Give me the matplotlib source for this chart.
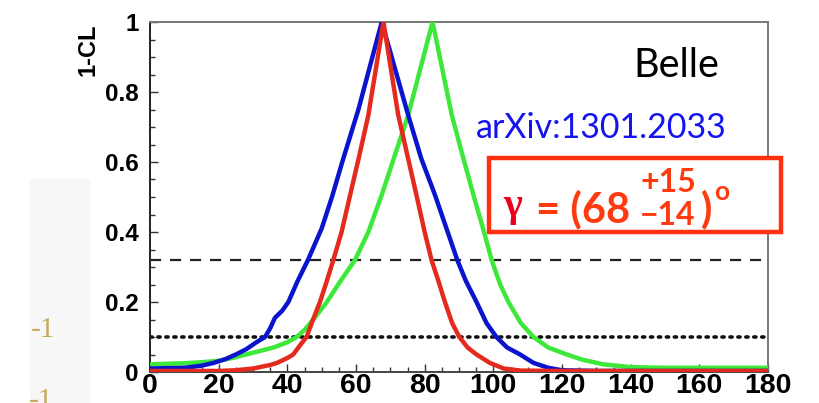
import matplotlib
matplotlib.use("Agg")
import matplotlib.pyplot as plt
from matplotlib.patches import Rectangle
from matplotlib.ticker import MultipleLocator

# ---- data ----
red_x = [0, 10, 20, 25, 30, 35, 37, 40, 41.7, 44, 45.6, 47.5, 49.5, 51.5, 53.4, 55.8, 58.3, 61, 63.6, 68,
         72.3, 77.5, 80, 82, 84, 85.9, 88, 90.1, 92.5, 95.1, 99, 103, 108, 120, 180]
red_y = [0.003, 0.003, 0.003, 0.005, 0.01, 0.02, 0.026, 0.04, 0.05, 0.08, 0.10, 0.15, 0.20, 0.26, 0.32, 0.40, 0.506, 0.62, 0.734, 1.0,
         0.734, 0.51, 0.40, 0.32, 0.26, 0.20, 0.14, 0.10, 0.07, 0.05, 0.026, 0.01, 0.004, 0.003, 0.003]

blue_x = [0, 10, 15, 18.5, 22, 25, 28, 31, 33.5, 35, 36.4, 38.5, 40.3, 43, 46, 50, 53, 56, 60.7, 67.5,
          75.2, 79, 83, 86, 89.5, 92, 95.1, 98, 100.9, 104, 107.8, 111.7, 116, 120, 130, 180]
blue_y = [0.01, 0.012, 0.018, 0.026, 0.037, 0.05, 0.065, 0.085, 0.10, 0.125, 0.155, 0.175, 0.20, 0.26, 0.32, 0.41, 0.50, 0.60, 0.75, 1.0,
          0.734, 0.61, 0.506, 0.42, 0.32, 0.26, 0.20, 0.14, 0.10, 0.07, 0.05, 0.026, 0.012, 0.005, 0.003, 0.003]

green_x = [0, 10, 15, 20, 24, 28, 32, 36, 40, 42.7, 45, 48, 51.5, 55.5, 59.7, 63.6, 67.5, 71, 75.2, 82.3,
           87.9, 91, 94.2, 97, 99.5, 102, 104.4, 108, 111.7, 116, 121.4, 126, 132, 140, 150, 180]
green_y = [0.022, 0.025, 0.028, 0.032, 0.04, 0.05, 0.06, 0.07, 0.085, 0.10, 0.12, 0.155, 0.20, 0.26, 0.32, 0.40, 0.506, 0.61, 0.734, 1.0,
           0.734, 0.62, 0.506, 0.41, 0.32, 0.25, 0.20, 0.14, 0.10, 0.07, 0.05, 0.035, 0.022, 0.014, 0.012, 0.012]

dashed_level = 0.32
dotted_level = 0.10
x_ticks = [0, 20, 40, 60, 80, 100, 120, 140, 160, 180]
y_ticks = [0, 0.2, 0.4, 0.6, 0.8, 1]
y_tick_labels = ["0", "0.2", "0.4", "0.6", "0.8", "1"]

W, H = 819, 403
fig = plt.figure(figsize=(W / 100, H / 100), dpi=100)

def fx(px):
    return px / W

def fy(py):
    return 1 - py / H

# artifact panel at left
fig.patches.append(Rectangle((fx(30), 0), fx(90) - fx(30), fy(179), transform=fig.transFigure,
                             facecolor="#f7f7f7", edgecolor="none", zorder=0))
fig.text(fx(31), fy(337), "-1", color="#c9a962", fontsize=21, family="Liberation Serif")
fig.text(fx(29), fy(408), "-1", color="#c9a962", fontsize=21, family="Liberation Serif")

ax = fig.add_axes([fx(150), fy(372), fx(768) - fx(150), fy(22) - fy(372)])
ax.set_xlim(0, 180)
ax.set_ylim(0, 1)

ax.plot(green_x, green_y, color="#3ee83a", lw=3.2, zorder=3)
ax.plot(blue_x, blue_y, color="#0a14cc", lw=3.2, zorder=4)
ax.plot(red_x, red_y, color="#e42a1e", lw=3.2, zorder=5)

ax.axhline(dashed_level, color="#222222", lw=1.6, ls=(0, (5, 4)), zorder=2)
ax.axhline(dotted_level, color="#111111", lw=2.6, ls=(0, (0.6, 1.6)), dash_capstyle="round", zorder=2)

ax.xaxis.set_minor_locator(MultipleLocator(5))
ax.yaxis.set_minor_locator(MultipleLocator(0.05))
ax.set_xticks(x_ticks)
ax.set_yticks(y_ticks)
ax.set_yticklabels(y_tick_labels)
ax.tick_params(which="both", direction="in", top=False, right=False, color="#333333", width=1)
ax.tick_params(which="major", length=6)
ax.tick_params(which="minor", length=3.5)
ax.tick_params(axis="y", pad=8)
ax.tick_params(axis="x", pad=1)
for lab in ax.get_yticklabels():
    lab.set_fontfamily("Liberation Sans")
    lab.set_fontweight("bold")
    lab.set_fontsize(17.5)
for lab in ax.get_xticklabels():
    lab.set_fontfamily(["Liberation Sans Narrow", "Liberation Sans"])
    lab.set_fontweight("bold")
    lab.set_fontsize(20.5)

ax.spines["left"].set_color("#222222")
ax.spines["bottom"].set_color("#444444")
ax.spines["top"].set_color("#777777")
ax.spines["right"].set_color("#777777")
for s in ax.spines.values():
    s.set_linewidth(1.4)

fig.text(fx(88), fy(50), "1-CL", rotation=90, ha="center", va="center",
         family="Liberation Sans", fontweight="bold", fontsize=17)

fig.text(fx(633), fy(77), "Belle", ha="left", va="baseline", family="Lato", fontsize=28.5, color="black")
fig.text(fx(476), fy(138), "arXiv:1301.2033", ha="left", va="baseline", family="Lato", fontsize=24.5,
         color="#1414f0")

# result box
fig.patches.append(Rectangle((fx(489), fy(232)), fx(781) - fx(489), fy(158) - fy(232), transform=fig.transFigure,
                             facecolor="white", edgecolor="#ff3010", lw=3.2, zorder=10))
tc = "#ff3a10"
fig.text(fx(503), fy(216), "γ", ha="left", va="baseline", family="Liberation Serif", fontsize=29,
         fontweight="bold", color="#e8001c", zorder=11)
fig.text(fx(536), fy(222), "= (68", ha="left", va="baseline", family="Lato", fontweight="bold",
         fontsize=30, color=tc, zorder=11)
fig.text(fx(668), fy(192), "+15", ha="center", va="baseline", family="Lato", fontweight="bold",
         fontsize=23, color=tc, zorder=11)
fig.text(fx(668), fy(225), "\u221214", ha="center", va="baseline", family="Lato", fontweight="bold",
         fontsize=23, color=tc, zorder=11)
fig.text(fx(701), fy(222), ")", ha="left", va="baseline", family="Lato", fontweight="bold",
         fontsize=30, color=tc, zorder=11)
fig.text(fx(714), fy(200), "o", ha="left", va="baseline", family="Lato", fontweight="bold",
         fontsize=19, color=tc, zorder=11)

fig.savefig("out.png", dpi=100)
